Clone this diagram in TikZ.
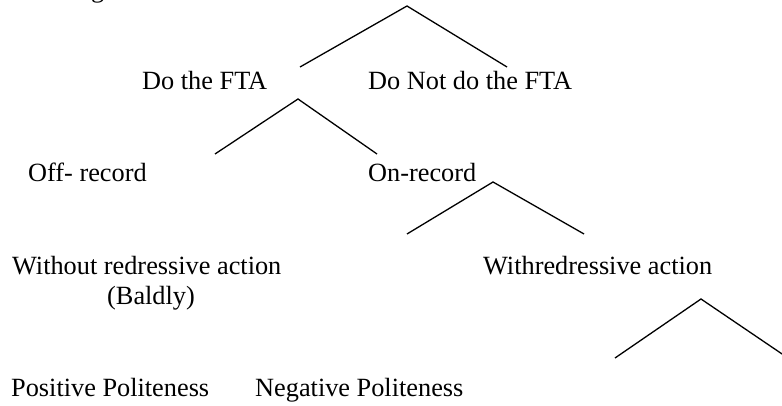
\documentclass[tikz,border=0pt]{standalone}
\usepackage{fontspec}
\setmainfont{Liberation Serif}
\begin{document}
\begin{tikzpicture}[x=1pt,y=-1pt,
  lbl/.style={anchor=base west,inner sep=0pt,font=\fontsize{26.3}{30}\selectfont},
  branch/.style={line width=1.3pt,line cap=butt,line join=miter}]
\useasboundingbox (0,0) rectangle (782,406);
\clip (0,0) rectangle (782,406);
% labels
\node[lbl] (doing) at (91,-2.7) {g};
\node[lbl] (do) at (142,90) {Do the FTA};
\node[lbl] (donot) at (368,90) {Do Not do the FTA};
\node[lbl] (off) at (28,182) {Off- record};
\node[lbl] (on) at (368,182) {On-record};
\node[lbl] (without) at (12,274) {Without redressive action};
\node[lbl] (baldly) at (107,305) {(Baldly)};
\node[lbl] (with) at (483,274) {Withredressive action};
\node[lbl] (pos) at (11,396) {Positive Politeness};
\node[lbl] (neg) at (255,396) {Negative Politeness};
% branch points
\coordinate (a1) at (407,6);   \coordinate (a1l) at (300,67);  \coordinate (a1r) at (507,67);
\coordinate (a2) at (298,99);  \coordinate (a2l) at (215,154); \coordinate (a2r) at (377,154);
\coordinate (a3) at (493,182); \coordinate (a3l) at (407,234); \coordinate (a3r) at (584,234);
\coordinate (a4) at (701,299); \coordinate (a4l) at (615,358); \coordinate (a4r) at (788,358);
\draw[branch] (a1l) -- (a1) -- (a1r);
\draw[branch] (a2l) -- (a2) -- (a2r);
\draw[branch] (a3l) -- (a3) -- (a3r);
\draw[branch] (a4l) -- (a4) -- (a4r);
\end{tikzpicture}
\end{document}
